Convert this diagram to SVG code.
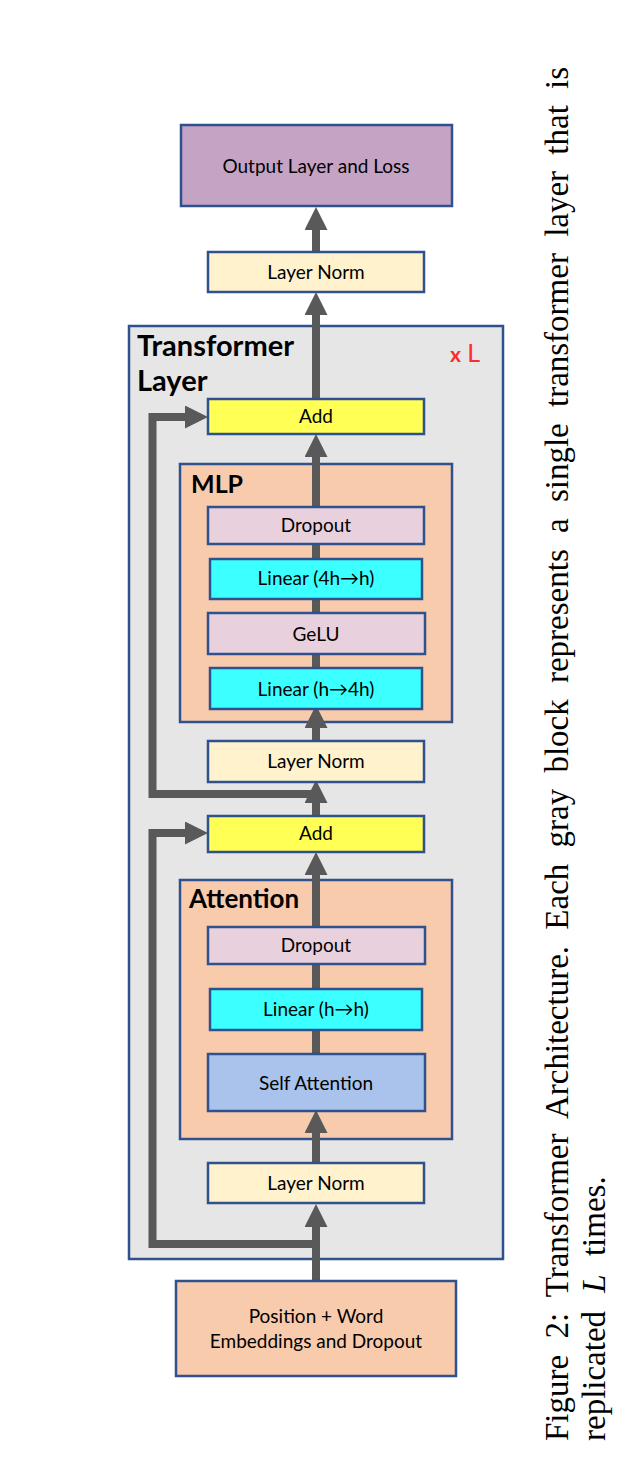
<svg xmlns="http://www.w3.org/2000/svg" width="641" height="1466" viewBox="0 0 641 1466">
<defs>
<style>
.box{stroke:#2F528F;stroke-width:2.5}
.lbl{font-family:Lato,"Open Sans","Liberation Sans",sans-serif;font-size:19px;fill:#000;text-anchor:middle}
.ttl{font-family:Lato,"Open Sans","Liberation Sans",sans-serif;font-weight:bold;fill:#000}
.con{stroke:#595959;stroke-width:8;fill:none;stroke-linejoin:miter}
.cap{font-family:"Liberation Serif","DejaVu Serif",serif;font-size:33px;fill:#000}
</style>
<marker id="ah" markerUnits="userSpaceOnUse" markerWidth="24" markerHeight="23" refX="0" refY="11.5" orient="auto">
<path d="M0,0 L23,11.5 L0,23 Z" fill="#595959"/>
</marker>
</defs>
<rect width="641" height="1466" fill="#fff"/>

<g id="transformer-layer">
<rect class="box" x="129" y="326" width="374" height="933" fill="#E7E6E6"/>
<text class="ttl" x="137" y="356" font-size="29">Transformer</text>
<text class="ttl" x="137" y="391" font-size="29">Layer</text>
<text x="450" y="362" font-family="Lato,'Liberation Sans',sans-serif" font-size="25" fill="#FF2A2A"><tspan font-size="21" font-weight="bold">x</tspan> L</text>
</g>

<g id="mlp">
<rect class="box" x="180" y="464" width="272" height="258" fill="#F8CBAD"/>
<text class="ttl" x="191" y="493" font-size="25">MLP</text>
</g>

<g id="attention">
<rect class="box" x="180" y="880" width="272" height="259" fill="#F8CBAD"/>
<text class="ttl" x="189" y="908" font-size="26">Attention</text>
</g>

<g id="connectors">
<line class="con" x1="316" y1="1281" x2="316" y2="1227" marker-end="url(#ah)"/>
<line class="con" x1="316" y1="1163" x2="316" y2="1133" marker-end="url(#ah)"/>
<line class="con" x1="316" y1="1054" x2="316" y2="1030"/>
<line class="con" x1="316" y1="989" x2="316" y2="964"/>
<line class="con" x1="316" y1="927" x2="316" y2="875" marker-end="url(#ah)"/>
<polyline class="con" points="316,1244 152.5,1244 152.5,833 185,833" marker-end="url(#ah)"/>
<line class="con" x1="316" y1="816" x2="316" y2="803" marker-end="url(#ah)"/>
<line class="con" x1="316" y1="741" x2="316" y2="728" marker-end="url(#ah)"/>
<line class="con" x1="316" y1="668" x2="316" y2="654"/>
<line class="con" x1="316" y1="612" x2="316" y2="599"/>
<line class="con" x1="316" y1="559" x2="316" y2="544"/>
<line class="con" x1="316" y1="507" x2="316" y2="457" marker-end="url(#ah)"/>
<polyline class="con" points="316,794 152.5,794 152.5,417 185,417" marker-end="url(#ah)"/>
<line class="con" x1="316" y1="398" x2="316" y2="315" marker-end="url(#ah)"/>
<line class="con" x1="316" y1="252" x2="316" y2="230" marker-end="url(#ah)"/>
</g>

<g id="output-layer">
<rect class="box" x="181" y="125" width="271" height="81" fill="#C5A3C5"/>
<text class="lbl" x="316" y="173">Output Layer and Loss</text>
</g>

<g id="layer-norm-final">
<rect class="box" x="208" y="252" width="216" height="40" fill="#FFF2CC"/>
<text class="lbl" x="316" y="279">Layer Norm</text>
</g>

<g id="add-2">
<rect class="box" x="208" y="399" width="216" height="35" fill="#FFFF55"/>
<text class="lbl" x="316" y="423">Add</text>
</g>

<g id="mlp-dropout">
<rect class="box" x="208" y="507" width="216" height="37" fill="#E8D1DD"/>
<text class="lbl" x="316" y="532">Dropout</text>
</g>

<g id="linear-4h-h">
<rect class="box" x="210" y="559" width="212" height="40" fill="#3CFFFF"/>
<text class="lbl" x="316" y="585">Linear (4h→h)</text>
</g>

<g id="gelu">
<rect class="box" x="208" y="613" width="217" height="41" fill="#E8D1DD"/>
<text class="lbl" x="316" y="641">GeLU</text>
</g>

<g id="linear-h-4h">
<rect class="box" x="210" y="668" width="212" height="41" fill="#3CFFFF"/>
<text class="lbl" x="316" y="696">Linear (h→4h)</text>
</g>

<g id="layer-norm-2">
<rect class="box" x="208" y="741" width="216" height="41" fill="#FFF2CC"/>
<text class="lbl" x="316" y="768">Layer Norm</text>
</g>

<g id="add-1">
<rect class="box" x="208" y="816" width="216" height="36" fill="#FFFF55"/>
<text class="lbl" x="316" y="840">Add</text>
</g>

<g id="attn-dropout">
<rect class="box" x="208" y="927" width="217" height="37" fill="#E8D1DD"/>
<text class="lbl" x="316" y="952">Dropout</text>
</g>

<g id="linear-h-h">
<rect class="box" x="210" y="989" width="212" height="41" fill="#3CFFFF"/>
<text class="lbl" x="316" y="1016">Linear (h→h)</text>
</g>

<g id="self-attention">
<rect class="box" x="208" y="1054" width="217" height="57" fill="#A9C3EC"/>
<text class="lbl" x="316" y="1090">Self Attention</text>
</g>

<g id="layer-norm-1">
<rect class="box" x="208" y="1163" width="216" height="40" fill="#FFF2CC"/>
<text class="lbl" x="316" y="1190">Layer Norm</text>
</g>

<g id="embeddings">
<rect class="box" x="176" y="1281" width="280" height="95" fill="#F8CBAD"/>
<text class="lbl" x="316" y="1323">Position + Word</text>
<text class="lbl" x="316" y="1348">Embeddings and Dropout</text>
</g>

<g id="caption">
<text class="cap" transform="translate(568,1441) rotate(-90)" word-spacing="8">Figure 2:  Transformer Architecture.  Each gray block represents a single transformer layer that is</text>
<text class="cap" transform="translate(605,1441) rotate(-90)" word-spacing="10">replicated <tspan font-style="italic">L</tspan> times.</text>
</g>
</svg>
